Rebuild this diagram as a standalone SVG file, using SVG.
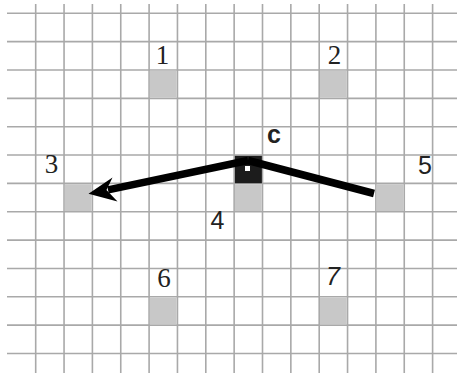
<svg xmlns="http://www.w3.org/2000/svg" width="457" height="373" viewBox="0 0 457 373">
<style>
.g{stroke:#a9a9a9;stroke-width:1.6;fill:none}
.cell{fill:#c8c8c8}
.serif{font-family:"Liberation Serif","Times New Roman",serif;font-size:27px;fill:#222;text-anchor:middle}
.sans{font-family:"Liberation Sans",Arial,sans-serif;font-size:25px;fill:#222;text-anchor:middle}
.conn{stroke:#000;stroke-width:7.5;fill:none;stroke-linecap:butt}
</style>
<rect width="457" height="373" fill="#fff"/>
<g id="grid" class="g">
<path d="M7 13.3H457M7 41.65H457M7 70H457M7 98.35H457M7 126.7H457M7 155.05H457M7 183.4H457M7 211.75H457M7 240.1H457M7 268.45H457M7 296.8H457M7 325.15H457M7 353.5H457"/>
<path d="M35.7 4V373M64.05 4V373M92.4 4V373M120.75 4V373M149.1 4V373M177.45 4V373M205.8 4V373M234.15 4V373M262.5 4V373M290.85 4V373M319.2 4V373M347.55 4V373M375.9 4V373M404.25 4V373M432.6 4V373"/>
</g>
<g id="n1"><rect class="cell" x="149.9" y="70.8" width="26.8" height="26.8"/><text class="serif" x="162.5" y="63.5">1</text></g>
<g id="n2"><rect class="cell" x="320" y="70.8" width="26.8" height="26.8"/><text class="serif" x="334.5" y="63.5">2</text></g>
<g id="n3"><rect class="cell" x="64.85" y="184.2" width="26.8" height="26.8"/><text class="serif" x="51.5" y="172.5">3</text></g>
<g id="n4"><rect class="cell" x="234.95" y="184.2" width="26.8" height="26.8"/><text class="sans" x="217.5" y="228.5">4</text></g>
<g id="n5"><rect class="cell" x="376.7" y="184.2" width="26.8" height="26.8"/><text class="sans" x="425" y="173.5">5</text></g>
<g id="n6"><rect class="cell" x="149.9" y="297.6" width="26.8" height="26.8"/><text class="serif" x="164" y="286.5">6</text></g>
<g id="n7"><rect class="cell" x="320" y="297.6" width="26.8" height="26.8"/><text class="sans" x="333" y="285" font-style="italic">7</text></g>
<g id="c">
<rect x="234.9" y="155.8" width="27" height="27.4" fill="#1c1c1c"/>
<text class="sans" x="274" y="143" font-weight="bold" font-size="27">c</text>
</g>
<g id="connectors">
<path class="conn" d="M374 193.5L248 160.5"/>
<path class="conn" d="M248 160.5L108 189.8"/>
<polygon points="88.5,193.8 112.5,177.5 106.5,190 117.5,201.5" fill="#000"/>
<rect x="245" y="166" width="5" height="5" fill="#fff"/>
</g>
</svg>
